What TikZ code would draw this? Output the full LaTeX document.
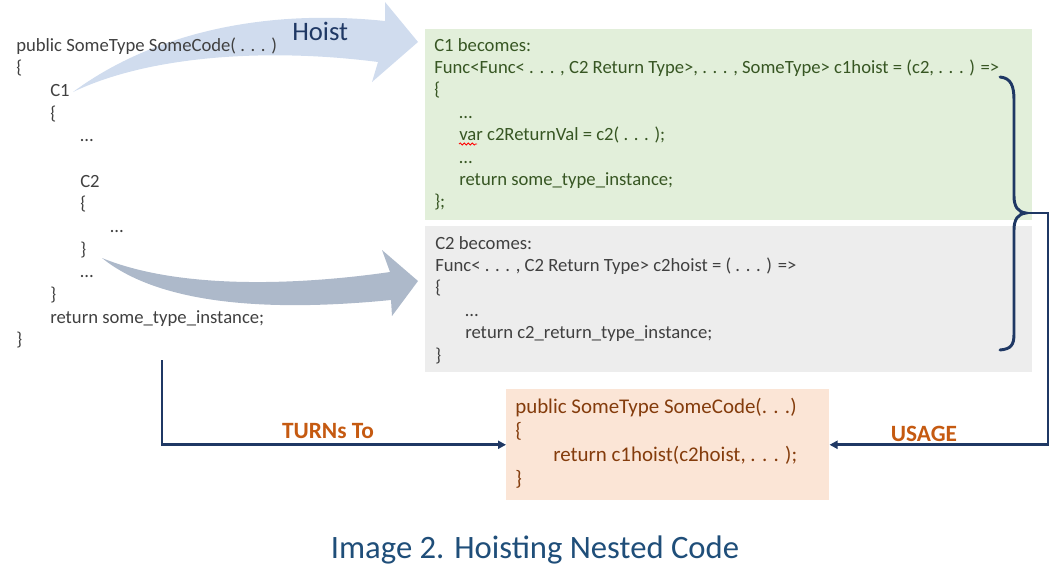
\documentclass[tikz,border=0pt]{standalone}
\usepackage{fontspec}
\setmainfont{Carlito}
\usetikzlibrary{arrows.meta,decorations.pathmorphing}
\definecolor{codegray}{HTML}{404040}
\definecolor{greentext}{HTML}{375623}
\definecolor{greenfill}{HTML}{E2EFDA}
\definecolor{grayfill}{HTML}{EDEDED}
\definecolor{orangefill}{HTML}{FBE5D6}
\definecolor{orangetext}{HTML}{843C0C}
\definecolor{labelorange}{HTML}{C55A11}
\definecolor{navy}{HTML}{1F3864}
\definecolor{hoistfill}{HTML}{D0DCEE}
\definecolor{lowfill}{HTML}{ADB9CA}
\definecolor{captionblue}{HTML}{1F4E79}
\tikzset{
  codeblock/.style={inner sep=0pt, anchor=base west, align=left},
  panel/.style={draw=none, inner sep=0pt},
  conn/.style={draw=navy, line width=2pt, -{Triangle[length=6pt,width=6pt]}},
  lbl/.style={font=\fontsize{17.5}{21}\selectfont\bfseries, text=labelorange, inner sep=0pt},
}
\newcommand{\ind}[1]{\hspace*{#1}}
\begin{document}
\begin{tikzpicture}[x=0.75pt,y=-0.75pt]
\useasboundingbox (0,0) rectangle (1059,571);

% panels
\node[panel, fill=greenfill, minimum width=607*0.75pt, minimum height=191*0.75pt, anchor=north west] (green) at (425,29) {};
\node[panel, fill=grayfill, minimum width=607*0.75pt, minimum height=146*0.75pt, anchor=north west] (gray) at (425,226) {};
\node[panel, fill=orangefill, minimum width=323*0.75pt, minimum height=111*0.75pt, anchor=north west] (orange) at (506,389) {};

% curved block arrows
\fill[hoistfill] (73,92) .. controls (150,35) and (260,8) .. (385,21)
  -- (385,2) -- (418,42) -- (372,82) -- (378,62)
  .. controls (270,48) and (150,55) .. (73,92) -- cycle;
\fill[lowfill] (102,258) .. controls (180,290) and (300,285) .. (390,272)
  -- (382,250) -- (418,281) -- (392,316) -- (391,300)
  .. controls (270,312) and (160,305) .. (102,258) -- cycle;

\node[inner sep=0pt, anchor=base west, font=\fontsize{20}{24}\selectfont, text=navy] (hoist) at (292,40) {Hoist};

% left code
\node[codeblock, font=\fontsize{14}{17}\selectfont, text=codegray] (src) at (16,51) {%
\begin{tabular}[t]{@{}l@{}}
public SomeType SomeCode( . . . )\\
\{\\
\ind{25.5pt}C1\\
\ind{25.5pt}\{\\
\ind{48pt}\dots\\
\\
\ind{48pt}C2\\
\ind{48pt}\{\\
\ind{70.5pt}\dots\\
\ind{48pt}\}\\
\ind{48pt}\dots\\
\ind{25.5pt}\}\\
\ind{25.5pt}return some\_type\_instance;\\
\}
\end{tabular}};

% green code
\node[codeblock, font=\fontsize{14}{16.8}\selectfont, text=greentext] (c1) at (434,51) {%
\begin{tabular}[t]{@{}l@{}}
C1 becomes:\\
Func<Func< . . . , C2 Return Type>, . . . , SomeType> c1hoist = (c2, . . . ) =>\\
\{\\
\ind{18.75pt}\dots\\
\ind{18.75pt}var c2ReturnVal = c2( . . . );\\
\ind{18.75pt}\dots\\
\ind{18.75pt}return some\_type\_instance;\\
\};
\end{tabular}};
\draw[red, line width=0.6pt, decorate, decoration={snake, amplitude=0.8pt, segment length=3pt}] (459,144) -- (477,144);

% gray code
\node[codeblock, font=\fontsize{14}{16.8}\selectfont, text=codegray] (c2) at (435,249) {%
\begin{tabular}[t]{@{}l@{}}
C2 becomes:\\
Func< . . . , C2 Return Type> c2hoist = ( . . . ) =>\\
\{\\
\ind{22.5pt}\dots\\
\ind{22.5pt}return c2\_return\_type\_instance;\\
\}
\end{tabular}};

% orange code
\node[codeblock, font=\fontsize{15.7}{18}\selectfont, text=orangetext] (usage) at (515,413) {%
\begin{tabular}[t]{@{}l@{}}
public SomeType SomeCode(. . .)\\
\{\\
\ind{28.5pt}return c1hoist(c2hoist, . . . );\\
\}
\end{tabular}};

% brace
\draw[navy, line width=2.2pt, line cap=round]
  (1000,77) .. controls (1011,78) and (1014,86) .. (1014,100)
  -- (1014,196) .. controls (1014,207) and (1018,212) .. (1026,213)
  .. controls (1018,214) and (1014,219) .. (1014,230)
  -- (1014,334) .. controls (1014,345) and (1011,349) .. (1000,350);
\coordinate (tip) at (1026,213);
\coordinate (start) at (162,360);

% connectors
\draw[conn] (start) |- (orange.west);
\draw[conn] (tip) -- (1048,213) |- (orange.east);

\node[lbl, anchor=base] (turns) at (328,438) {TURNs To};
\node[lbl, anchor=base] (usagelbl) at (924,441) {USAGE};

% caption
\node[inner sep=0pt, anchor=base, font=\fontsize{24.5}{29}\selectfont, text=captionblue] (caption) at (535,558) {Image 2. Hoisting Nested Code};
\end{tikzpicture}
\end{document}
